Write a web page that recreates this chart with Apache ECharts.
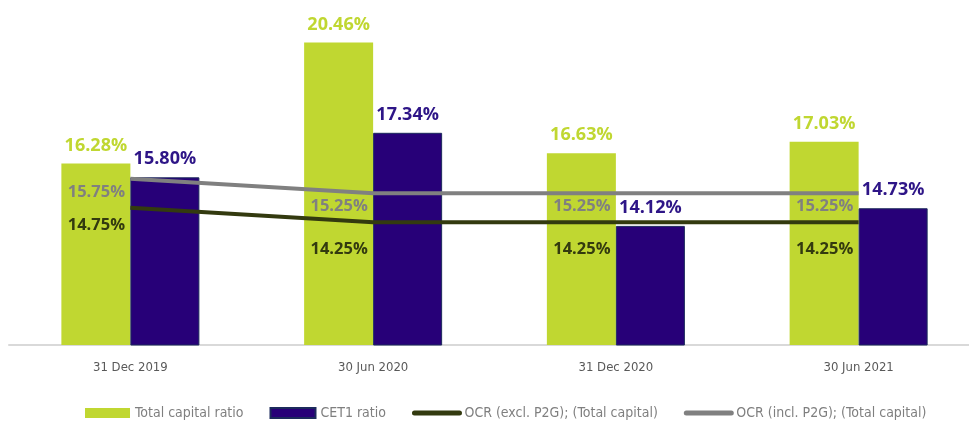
<!DOCTYPE html>
<html>
<head>
<meta charset="utf-8">
<title>Capital ratios</title>
<script src="https://cdn.jsdelivr.net/npm/echarts@6/dist/echarts.min.js"></script>
<style>
  html, body { margin: 0; padding: 0; background: #fff; overflow: hidden; }
  #chart { width: 990px; height: 434px; }
</style>
</head>
<body>
<div id="chart"></div>
<script>
// data
var categories = ['31 Dec 2019', '30 Jun 2020', '31 Dec 2020', '30 Jun 2021'];
var totalCapital = [16.28, 20.46, 16.63, 17.03];
var cet1 = [15.80, 17.34, 14.12, 14.73];
var ocrExcl = [14.75, 14.25, 14.25, 14.25];
var ocrIncl = [15.75, 15.25, 15.25, 15.25];

var GREEN = '#c0d731';
var PURPLE = '#270078';
var DARK = '#333a0f';
var GREY = '#808080';
var narrow = '"Liberation Sans Narrow", "DejaVu Sans Condensed", sans-serif';
var bold = '"Open Sans", "Liberation Sans", sans-serif';

function pct(p) { return p.value.toFixed(2) + '%'; }

// line labels sit below the point, over the green bar
function lineData(values, first, rest) {
    return values.map(function (v, i) {
        return { value: v, label: { distance: i === 0 ? first : rest } };
    });
}

// plot area runs a little past the right edge of the window, like the original
var chart = echarts.init(document.getElementById('chart'));
chart.setOption({
    animation: false,
    grid: { left: 9, width: 971, top: 27, height: 318 },
    legend: {
        left: 80,
        top: 401,
        itemWidth: 45,
        itemHeight: 10,
        itemGap: 26,
        textStyle: { fontFamily: narrow, fontSize: 14, color: '#7f7f7f' },
        data: [
            { name: 'Total capital ratio', icon: 'rect' },
            { name: 'CET1 ratio', icon: 'rect' },
            { name: 'OCR (excl. P2G); (Total capital)', lineStyle: { width: 5, cap: 'round' } },
            { name: 'OCR (incl. P2G); (Total capital)', lineStyle: { width: 5, cap: 'round' } }
        ]
    },
    xAxis: {
        type: 'category',
        data: categories,
        axisLine: { lineStyle: { color: '#d9d9d9', width: 2 } },
        axisTick: { show: false },
        axisLabel: { fontFamily: narrow, fontSize: 13, color: '#595959', margin: 16 }
    },
    yAxis: {
        type: 'value',
        min: 10,
        max: 21,
        show: false,
        splitLine: { show: false }
    },
    series: [
        {
            name: 'Total capital ratio',
            type: 'bar',
            data: totalCapital,
            barWidth: 69,
            barGap: '0%',
            itemStyle: { color: GREEN },
            label: {
                show: true, position: 'top', distance: 9, formatter: pct,
                color: GREEN, fontFamily: bold, fontWeight: 'bold', fontSize: 18
            }
        },
        {
            name: 'CET1 ratio',
            type: 'bar',
            data: cet1,
            barWidth: 69,
            itemStyle: { color: PURPLE, borderColor: '#1c2a5c', borderWidth: 1 },
            label: {
                show: true, position: 'top', distance: 9, formatter: pct,
                color: '#2e1587', fontFamily: bold, fontWeight: 'bold', fontSize: 18
            }
        },
        {
            name: 'OCR (excl. P2G); (Total capital)',
            type: 'line',
            data: lineData(ocrExcl, 8, 18),
            symbol: 'circle',
            symbolSize: 2,
            z: 5,
            lineStyle: { color: DARK, width: 4 },
            itemStyle: { color: DARK, opacity: 0 },
            label: {
                show: true, position: 'bottom', offset: [-34, 0], formatter: pct,
                color: DARK, opacity: 1, fontFamily: bold, fontWeight: 'bold', fontSize: 16.5
            }
        },
        {
            name: 'OCR (incl. P2G); (Total capital)',
            type: 'line',
            data: lineData(ocrIncl, 4, 4),
            symbol: 'circle',
            symbolSize: 2,
            z: 5,
            lineStyle: { color: GREY, width: 4 },
            itemStyle: { color: GREY, opacity: 0 },
            label: {
                show: true, position: 'bottom', offset: [-34, 0], formatter: pct,
                color: GREY, opacity: 1, fontFamily: bold, fontWeight: 'bold', fontSize: 16.5
            }
        }
    ]
});
</script>
</body>
</html>
